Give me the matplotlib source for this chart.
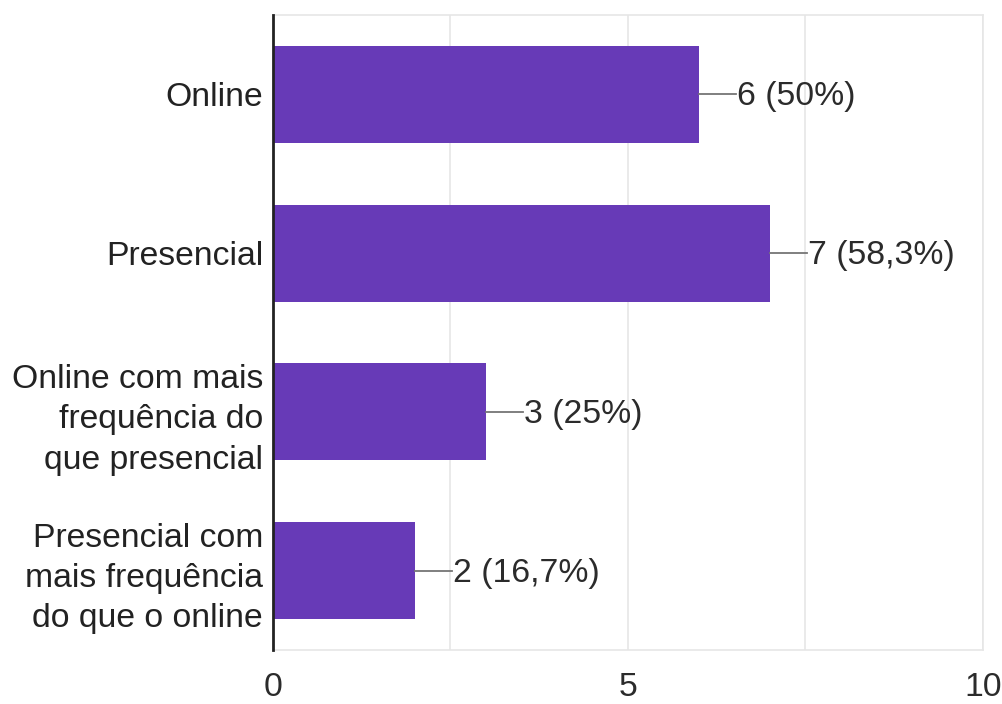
import matplotlib
matplotlib.use("Agg")
import matplotlib.pyplot as plt
from matplotlib.ticker import MultipleLocator, FixedLocator

categories = [
    "Online",
    "Presencial",
    "Online com mais\nfrequência do\nque presencial",
    "Presencial com\nmais frequência\ndo que o online",
]
counts = [6, 7, 3, 2]
percents = ["50%", "58,3%", "25%", "16,7%"]

plt.rcParams["font.family"] = ["Liberation Sans", "DejaVu Sans"]

fig = plt.figure(figsize=(10.03, 7.04), dpi=100)
ax = fig.add_axes([0.272, 0.0767, 0.708, 0.902])

bar_color = "#673ab7"
ypos = list(range(len(categories)))
ax.barh(ypos, counts, height=0.61, color=bar_color, zorder=3)

ax.set_xlim(0, 10)
ax.set_ylim(len(categories) - 0.5, -0.5)

fs = 24.3

# value labels with short leader lines
for y, c, p in zip(ypos, counts, percents):
    ax.plot([c, c + 0.52], [y, y], color="#757575", lw=1.3, zorder=4)
    ax.text(c + 0.54, y + 0.015, f"{c} ({p})", va="center", ha="left",
            fontsize=fs, color="#2b2b2b", zorder=5)

# grid every 2.5, labels every 5
ax.xaxis.set_major_locator(FixedLocator([0, 5, 10]))
ax.xaxis.set_minor_locator(MultipleLocator(2.5))
ax.grid(axis="x", which="both", color="#e6e6e6", lw=1.2, zorder=0)
ax.tick_params(axis="x", which="both", length=0, labelsize=fs,
               labelcolor="#2b2b2b", pad=16)

ax.set_yticks(ypos)
ax.set_yticklabels(categories, fontsize=fs, color="#222222", linespacing=1.38)
ax.tick_params(axis="y", length=0, pad=7)

for side in ["top", "right", "bottom"]:
    ax.spines[side].set_color("#e6e6e6")
    ax.spines[side].set_linewidth(1.2)
ax.spines["left"].set_color("#222222")
ax.spines["left"].set_linewidth(2)
ax.spines["left"].set_zorder(6)

fig.savefig("out.png", dpi=100, facecolor="white")
